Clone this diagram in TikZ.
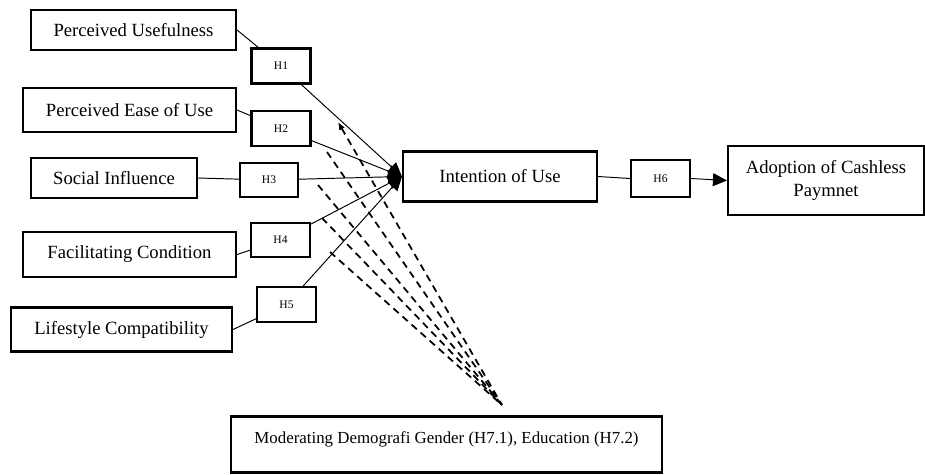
\documentclass[tikz,border=0pt]{standalone}
\usepackage{fontspec}
\setmainfont{Liberation Serif}
\usetikzlibrary{arrows.meta}

\begin{document}
\begin{tikzpicture}[x=0.2mm,y=-0.2mm,
  box/.style={draw,line width=1.2pt,align=center,inner sep=1pt,font=\fontsize{10.6}{13}\selectfont},
  hbox/.style={draw,line width=1.2pt,inner sep=1pt,minimum width=11.8mm,minimum height=7mm,font=\fontsize{6.6}{8}\selectfont},
  link/.style={line width=0.55pt},
  mdash/.style={line width=1pt,dash pattern=on 4pt off 2.9pt},
  >={Triangle[length=2.8mm,width=2.6mm]}]
\useasboundingbox (0,0) rectangle (925,474);
% constructs
\node[box,minimum width=41mm,minimum height=8mm] (pu) at (133.5,30) {Perceived Usefulness};
\node[box,minimum width=42.6mm,minimum height=8.8mm] (pe) at (129.5,110) {Perceived Ease of Use};
\node[box,minimum width=33.2mm,minimum height=8mm] (si) at (114,178) {Social Influence};
\node[box,minimum width=42.6mm,minimum height=9mm] (fc) at (129.5,254.5) {Facilitating Condition};
\node[box,minimum width=44.2mm,minimum height=8.8mm] (lc) at (121.5,329.5) {Lifestyle Compatibility};
% hypotheses
\node[hbox] (h1) at (281,66) {H1};
\node[hbox] (h2) at (281,128.5) {H2};
\node[hbox,minimum width=11.6mm,minimum height=6.8mm] (h3) at (269,180) {H3};
\node[hbox,minimum height=6.8mm] (h4) at (280.5,240) {H4};
\node[hbox] (h5) at (286.5,304.5) {H5};
\node[hbox,minimum height=7.4mm] (h6) at (660.5,178.5) {H6};
% outcomes
\node[box,minimum width=38.8mm,minimum height=10mm] (iou) at (500,176.5) {Intention of Use};
\node[box,minimum width=39.2mm,minimum height=13.8mm] (ado) at (826,180.5) {Adoption of Cashless\\Paymnet};
\node[box,minimum width=86.2mm,minimum height=11.2mm,text height=3mm,text depth=3.6mm,font=\fontsize{9.6}{12}\selectfont] (mod) at (446.5,444.5) {Moderating Demografi Gender (H7.1), Education (H7.2)};
\coordinate (tip) at (iou.west);
% direct paths
\foreach \src/\hyp in {pu/h1,pe/h2,si/h3,fc/h4,lc/h5}{
  \draw[link] (\src.east) -- (\hyp);
  \draw[link,->] (\hyp) -- (tip);
}
\draw[link] (iou.east) -- (h6.west);
\draw[link,->] (h6.east) -- (ado.west);
% moderation
\coordinate (mtop) at (502,405);
\coordinate (d1) at (338,122);
\coordinate (d2) at (327,152);
\coordinate (d3) at (318,185);
\coordinate (d4) at (322,218);
\coordinate (d5) at (330,252);
\draw[mdash,{Latex[length=1.6mm,width=1.3mm]}-] (d1) -- (mtop);
\foreach \d in {d2,d3,d4,d5}
  \draw[mdash] (\d) -- (mtop);
\end{tikzpicture}
\end{document}
